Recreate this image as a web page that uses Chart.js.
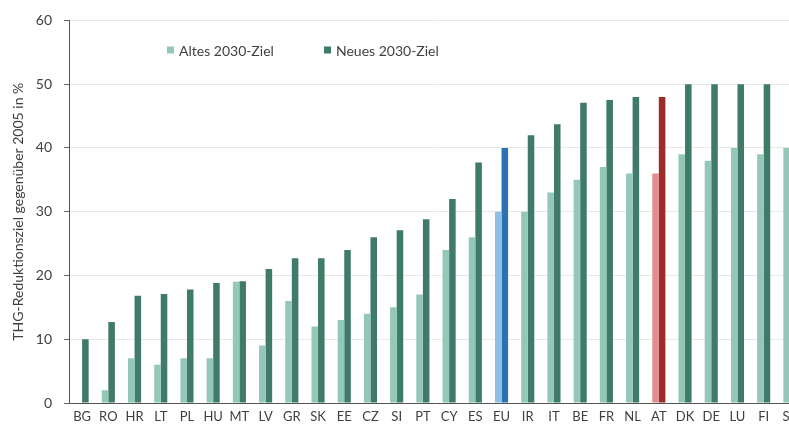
<!DOCTYPE html>
<html>
<head>
<meta charset="utf-8">
<script src="https://cdn.jsdelivr.net/npm/chart.js@4/dist/chart.umd.min.js"></script>
<style>
html,body{margin:0;padding:0;background:#fff;overflow:hidden;width:789px;height:426px;}
#wrap{position:absolute;left:0;top:0;width:806px;height:426px;}
</style>
</head>
<body>
<div id="wrap"><canvas id="c" width="806" height="426"></canvas></div>
<script>
const categories = ["BG","RO","HR","LT","PL","HU","MT","LV","GR","SK","EE","CZ","SI","PT","CY","ES","EU","IR","IT","BE","FR","NL","AT","DK","DE","LU","FI","SE"];
const altesZiel = [0,2,7,6,7,7,19,9,16,12,13,14,15,17,24,26,30,30,33,35,37,36,36,39,38,40,39,40];
const neuesZiel = [10,12.7,16.8,17.1,17.8,18.8,19.1,21,22.7,22.7,24,26,27.1,28.8,32,37.7,40,42,43.7,47.1,47.5,48,48,50,50,50,50,50];
const yTicks = [0,10,20,30,40,50,60];
const seriesNames = ["Altes 2030-Ziel","Neues 2030-Ziel"];

const lightColor = "#93c8b9", darkColor = "#3f7a6b";
const highlight = { EU: ["#90bfe6", "#2b72b4"], AT: ["#e28c8c", "#9a2c2c"] };
const colorsFor = (idx, base) => categories.map(c => highlight[c] ? highlight[c][idx] : base);

const FONT = "Lato, 'Open Sans', sans-serif";
const TXT = "#3f3f3f";

const legendPlugin = {
  id: "inlineLegend",
  afterDraw(chart) {
    const ctx = chart.ctx, a = chart.chartArea;
    const items = [[98, lightColor, seriesNames[0]], [255, darkColor, seriesNames[1]]];
    ctx.save();
    ctx.font = "14px " + FONT;
    ctx.textBaseline = "middle";
    items.forEach(([dx, col, label]) => {
      const x = a.left + dx, y = 50;
      ctx.fillStyle = col;
      ctx.fillRect(x, y - 3.5, 7, 7);
      ctx.fillStyle = TXT;
      ctx.fillText(label, x + 12, y + 1);
    });
    ctx.restore();
  }
};

new Chart(document.getElementById("c"), {
  type: "bar",
  data: {
    labels: categories,
    datasets: [
      { label: seriesNames[0], data: altesZiel, backgroundColor: colorsFor(0, lightColor), borderWidth: 0 },
      { label: seriesNames[1], data: neuesZiel, backgroundColor: colorsFor(1, darkColor), borderWidth: 0 }
    ]
  },
  options: {
    responsive: false,
    animation: false,
    devicePixelRatio: 1,
    layout: { padding: { top: 20, right: 3, left: 0, bottom: 0 } },
    categoryPercentage: 0.5,
    barPercentage: 1.0,
    plugins: { legend: { display: false }, tooltip: { enabled: false } },
    scales: {
      x: {
        grid: { display: false, drawTicks: false },
        border: { color: "#555", width: 1 },
        ticks: { color: TXT, font: { family: FONT, size: 13 }, padding: 6, maxRotation: 0, autoSkip: false },
        afterFit(s) { s.height = 23; }
      },
      y: {
        min: 0, max: 60,
        afterBuildTicks(s) { s.ticks = yTicks.map(v => ({ value: v })); },
        grid: { color: "#e8e8e8", tickLength: 5, tickColor: "#666" },
        border: { color: "#555", width: 1 },
        ticks: { color: TXT, font: { family: FONT, size: 14 }, padding: 12 },
        title: { display: true, text: "THG-Reduktionsziel gegenüber 2005 in %", color: TXT, font: { family: FONT, size: 14 }, padding: { top: 10, bottom: 0 } },
        afterFit(s) { s.width = 69; }
      }
    }
  },
  plugins: [legendPlugin]
});
</script>
</body>
</html>
